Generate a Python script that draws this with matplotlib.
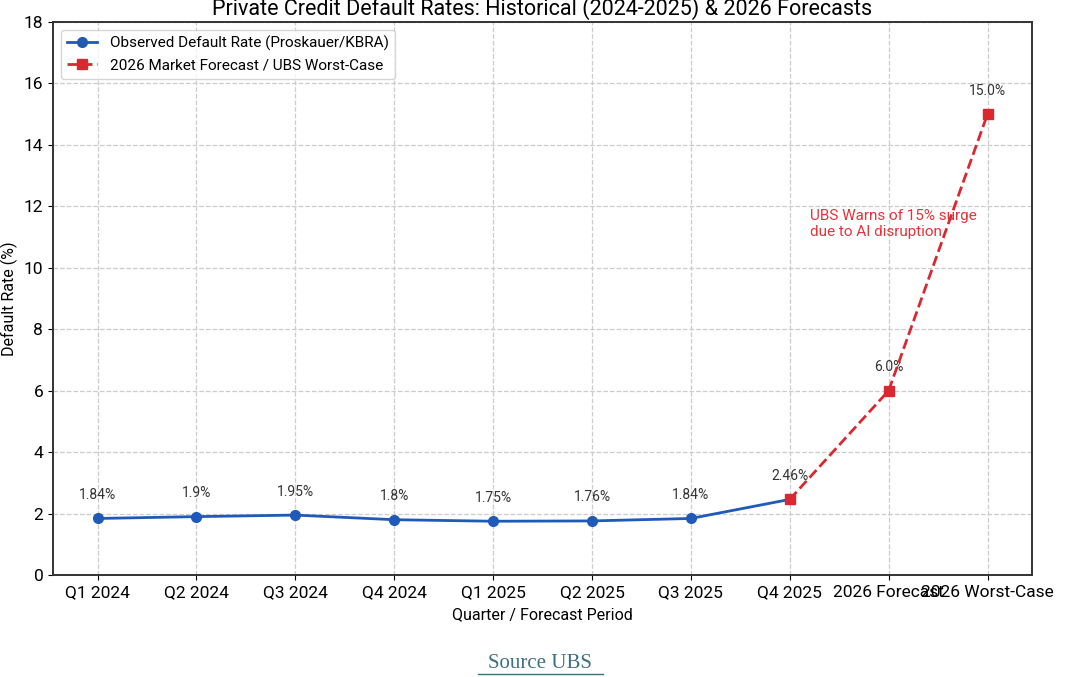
import matplotlib
matplotlib.use("Agg")
import matplotlib.pyplot as plt
from matplotlib.lines import Line2D

plt.rcParams["font.family"] = ["Roboto", "DejaVu Sans"]

# data
periods = ["Q1 2024", "Q2 2024", "Q3 2024", "Q4 2024", "Q1 2025",
           "Q2 2025", "Q3 2025", "Q4 2025", "2026 Forecast", "2026 Worst-Case"]
observed = [1.84, 1.9, 1.95, 1.8, 1.75, 1.76, 1.84, 2.46]
observed_labels = ["1.84%", "1.9%", "1.95%", "1.8%", "1.75%", "1.76%", "1.84%", "2.46%"]
forecast_periods = ["Q4 2025", "2026 Forecast", "2026 Worst-Case"]
forecast = [2.46, 6.0, 15.0]
forecast_labels = ["", "6.0%", "15.0%"]

BLUE = "#1f5ab8"
RED = "#d9282f"

fig = plt.figure(figsize=(10.67, 6.77), dpi=100)
ax = fig.add_axes([53 / 1067, 1 - 575 / 677, 979 / 1067, 553 / 677])

x_obs = list(range(len(observed)))
x_fc = [periods.index(p) for p in forecast_periods]

ax.plot(x_obs, observed, color=BLUE, linewidth=2, marker="o", markersize=7,
        label="Observed Default Rate (Proskauer/KBRA)", zorder=3)
ax.plot(x_fc, forecast, color=RED, linewidth=2, linestyle="--", marker="s",
        markersize=7, label="2026 Market Forecast / UBS Worst-Case", zorder=4)

for x, y, t in zip(x_obs, observed, observed_labels):
    ax.annotate(t, (x, y), xytext=(0, 14), textcoords="offset points",
                ha="center", fontsize=10, color="#333333")
for x, y, t in zip(x_fc, forecast, forecast_labels):
    if t:
        ax.annotate(t, (x, y), xytext=(0, 14), textcoords="offset points",
                    ha="center", fontsize=10, color="#333333")

ax.text(7.2, 11.9, "UBS Warns of 15% surge\ndue to AI disruption", color="#e8323a",
        fontsize=11, ha="left", va="top", linespacing=1.1)

ax.set_xticks(range(len(periods)))
ax.set_xticklabels(periods, fontsize=12.5)
ax.set_ylim(0, 18)
ax.set_yticks(range(0, 19, 2))
ax.tick_params(axis="y", labelsize=12.5)
ax.grid(True, linestyle="--", color="#cccccc", linewidth=0.9)
ax.set_axisbelow(True)
for s in ax.spines.values():
    s.set_linewidth(1.4)
    s.set_color("#333333")

ax.set_title("Private Credit Default Rates: Historical (2024-2025) & 2026 Forecasts",
             fontsize=15.5, pad=5)
ax.set_xlabel("Quarter / Forecast Period", fontsize=11.5, labelpad=5)
ax.set_ylabel("Default Rate (%)", fontsize=11.5)

leg = ax.legend(loc="upper left", fontsize=11, frameon=True, fancybox=True)
leg.get_frame().set_edgecolor("#cccccc")

# footer link
fig.text(540 / 1067, 1 - 663 / 677, "Source UBS", ha="center", va="center",
         fontsize=15, family="Liberation Serif", color="#3d7080")
fig.add_artist(Line2D([478 / 1067, 603 / 1067], [1 - 674 / 677, 1 - 674 / 677],
                      color="#3d7080", linewidth=1))

fig.savefig("out.png", dpi=100)
